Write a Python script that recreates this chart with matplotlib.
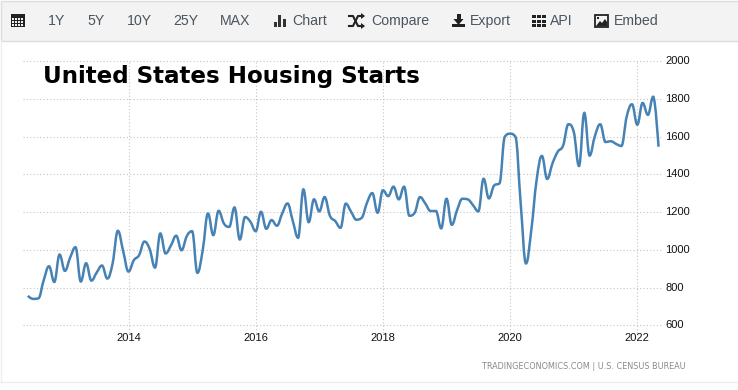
import matplotlib
matplotlib.use('Agg')
import matplotlib.pyplot as plt
from matplotlib.patches import PathPatch, Rectangle, Polygon
from matplotlib.path import Path
import numpy as np

start_year = 2012 + 5 / 12
starts = [756, 740, 743, 839, 913, 830, 975, 889, 960, 1014,
          832, 929, 837, 880, 917, 848, 928, 1101, 993, 885,
          945, 972, 1044, 1004, 906, 1087, 981, 1023, 1075, 998,
          1073, 1099, 878, 998, 1193, 1078, 1207, 1140, 1122, 1225,
          1055, 1174, 1149, 1099, 1202, 1112, 1158, 1128, 1193, 1246,
          1153, 1064, 1321, 1147, 1268, 1204, 1280, 1181, 1153, 1117,
          1245, 1202, 1160, 1170, 1250, 1301, 1197, 1316, 1285, 1335,
          1268, 1335, 1181, 1197, 1280, 1246, 1206, 1206, 1114, 1271,
          1133, 1211, 1271, 1268, 1237, 1204, 1377, 1273, 1342, 1353,
          1600, 1616, 1600, 1246, 928, 1105, 1370, 1498, 1376, 1459,
          1521, 1553, 1666, 1627, 1445, 1726, 1500, 1604, 1666, 1572,
          1576, 1562, 1551, 1707, 1772, 1664, 1779, 1716, 1812, 1547]
year_ticks = [2014, 2016, 2018, 2020, 2022]
value_ticks = [600, 800, 1000, 1200, 1400, 1600, 1800, 2000]
buttons = [('1Y', 57), ('5Y', 96), ('10Y', 139), ('25Y', 186), ('MAX', 235)]
tools = [('Chart', 292), ('Compare', 371), ('Export', 470), ('API', 550), ('Embed', 614)]

W, H = 738, 390
UI = 'Liberation Sans'
GRID = '#c4c4c4'


def spline_path(x, y):
    # same idea as a highcharts spline, control points 0.4 of the way along
    verts = [(x[0], y[0])]
    codes = [Path.MOVETO]
    n = len(x)
    right = [(x[0], y[0])]
    left = []
    for i in range(1, n - 1):
        dx = 0.4 * (x[i] - x[i - 1])
        slope = (y[i + 1] - y[i - 1]) / (x[i + 1] - x[i - 1])
        ly = y[i] - slope * dx
        ry = y[i] + slope * dx
        # no overshoot past the neighbours
        if ly > max(y[i - 1], y[i]):
            ly = max(y[i - 1], y[i])
            ry = 2 * y[i] - ly
        elif ly < min(y[i - 1], y[i]):
            ly = min(y[i - 1], y[i])
            ry = 2 * y[i] - ly
        if ry > max(y[i + 1], y[i]):
            ry = max(y[i + 1], y[i])
            ly = 2 * y[i] - ry
        elif ry < min(y[i + 1], y[i]):
            ry = min(y[i + 1], y[i])
            ly = 2 * y[i] - ry
        left.append((x[i] - dx, ly))
        right.append((x[i] + dx, ry))
    left.append((x[-1], y[-1]))
    for i in range(1, n):
        verts += [right[i - 1], left[i - 1], (x[i], y[i])]
        codes += [Path.CURVE4] * 3
    return Path(verts, codes)


fig = plt.figure(figsize=(W / 100, H / 100), dpi=100, facecolor='white')

# chart area, pixel box 23..663 x 61.5..325
ax = fig.add_axes([23 / W, 1 - 325.3 / H, 640 / W, 264 / H])
px_per_year = 63.6
ax.set_xlim(2014 - (128.5 - 23) / px_per_year, 2014 + (663 - 128.5) / px_per_year)
ax.set_ylim(600, 2000)
for s in ax.spines.values():
    s.set_visible(False)
for v in value_ticks:
    ax.plot(ax.get_xlim(), [v, v], color=GRID, lw=0.8, ls=(0, (1, 2)), clip_on=False, zorder=1)
for yr in year_ticks:
    ax.plot([yr, yr], [560, 2000], color=GRID, lw=0.8, ls=(0, (1, 2)), clip_on=False, zorder=1)
    ax.text(yr, 600 - 12.3 * 5.303, str(yr), ha='center', va='center', fontsize=8.0,
            family=UI, color='#111111')
for v in value_ticks:
    ax.annotate(str(v), (1, v), xycoords=('axes fraction', 'data'), xytext=(2.5, 0),
                textcoords='offset pixels', ha='left', va='center', fontsize=8.0,
                family=UI, color='#111111')
ax.set_xticks([])
ax.set_yticks([])

xs = start_year + np.arange(len(starts)) / 12
ax.add_patch(PathPatch(spline_path(xs, np.array(starts, dtype=float)), fill=False,
                       edgecolor='#4682b4', lw=1.8, zorder=3, clip_on=False))

# overlay in pixel coordinates for the toolbar, title and source
ui = fig.add_axes([0, 0, 1, 1], facecolor='none')
ui.set_xlim(0, W)
ui.set_ylim(H, 0)
ui.axis('off')

ui.add_patch(Rectangle((1, 1), W, 40, facecolor='#f3f3f3', edgecolor='#dddddd', lw=1))
ui.plot([0, W], [382, 382], color='#eeeeee', lw=1)
ui.plot([0.5, 0.5], [41, 382], color='#eeeeee', lw=1)

for label, x in buttons:
    ui.text(x, 21, label, ha='center', va='center', fontsize=10.2, family=UI, color='#4a5560')
for label, x in tools:
    ui.text(x, 21, label, ha='left', va='center', fontsize=10.2, family=UI, color='#4a5560')

ICON = '#222222'
# calendar
ui.add_patch(Rectangle((11, 14), 14, 13, facecolor=ICON, edgecolor='none'))
for cx in range(12, 24, 3):
    for cy in (19, 22, 25):
        ui.add_patch(Rectangle((cx, cy - 1), 2, 1.6, facecolor='#f3f3f3', edgecolor='none'))
# bars
for bx, top in ((274, 22), (278, 15), (283, 19)):
    ui.add_patch(Rectangle((bx, top), 3.2, 27 - top, facecolor='#333333', edgecolor='none'))
# shuffle
ui.plot([349, 353, 358, 363], [16, 16, 26, 26], color=ICON, lw=1.5)
ui.plot([349, 353, 358, 363], [26, 26, 16, 16], color=ICON, lw=1.5)
ui.add_patch(Polygon([(361, 13), (365, 16), (361, 19)], facecolor=ICON))
ui.add_patch(Polygon([(361, 23), (365, 26), (361, 29)], facecolor=ICON))
# export
ui.add_patch(Rectangle((452, 24), 13, 3, facecolor=ICON))
ui.add_patch(Rectangle((456.5, 14), 4, 6, facecolor=ICON))
ui.add_patch(Polygon([(453.5, 19), (463.5, 19), (458.5, 25)], facecolor=ICON))
# api grid
for gx in (532, 537, 542):
    for gy in (15, 20, 24):
        ui.add_patch(Rectangle((gx, gy), 3.6, 3.2, facecolor=ICON))
# embed image
ui.add_patch(Rectangle((595, 15), 13, 12, facecolor='#f3f3f3', edgecolor=ICON, lw=1.3))
ui.add_patch(Polygon([(596, 26), (600, 21), (602, 23), (605, 19), (607, 22), (607, 26)], facecolor=ICON))
ui.add_patch(Rectangle((597, 17), 2.4, 2.4, facecolor=ICON))

ui.text(43, 76.5, 'United States Housing Starts', ha='left', va='center', fontsize=16.6,
        fontweight='bold', family='DejaVu Sans', color='black')
ui.text(686, 366.5, 'TRADINGECONOMICS.COM | U.S. CENSUS BUREAU', ha='right', va='center',
        fontsize=5.85, family='Liberation Sans Narrow', color='#8a8a8a')

fig.savefig('out.png', dpi=100)
